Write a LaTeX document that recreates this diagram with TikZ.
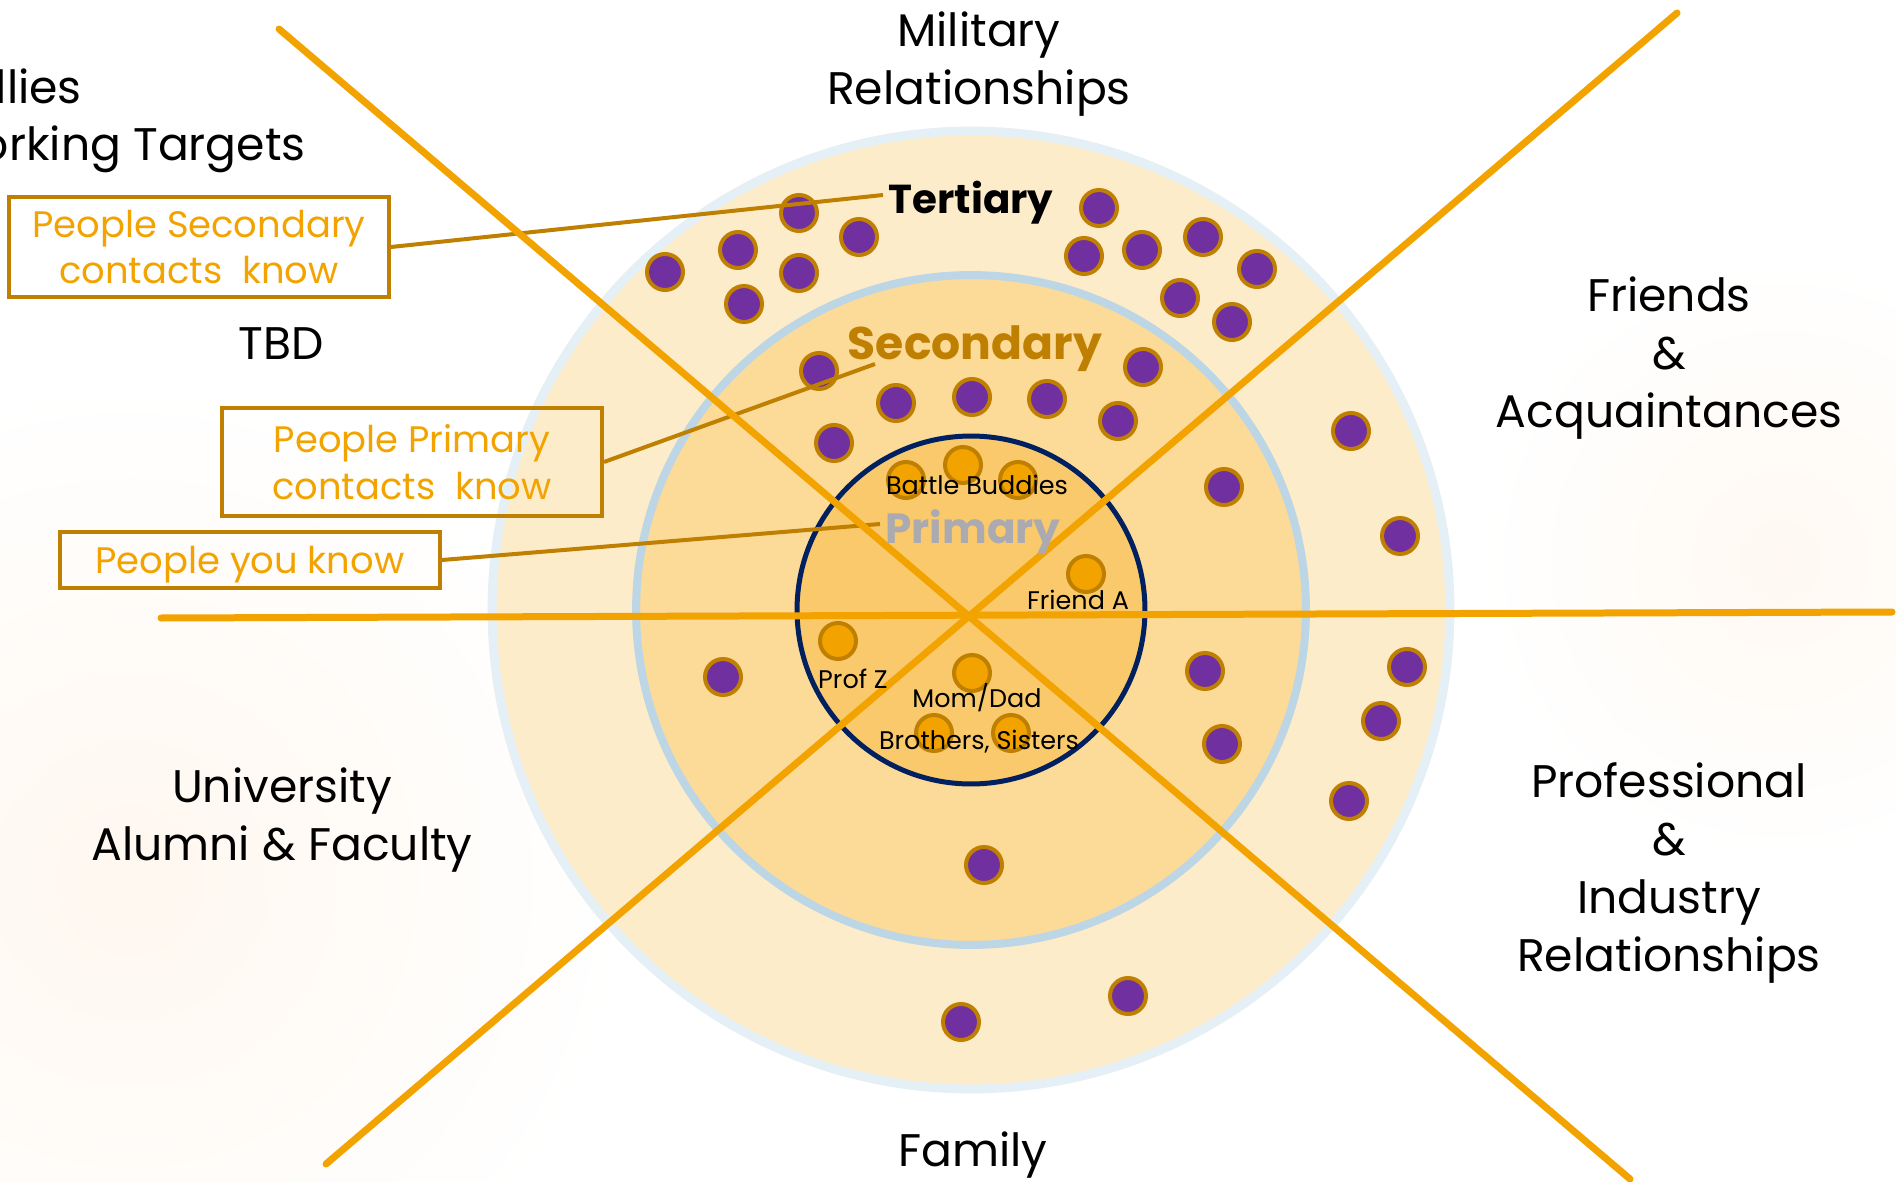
\documentclass[tikz,border=0pt]{standalone}
\usepackage{fontspec}
\setmainfont{Poppins}
\usepackage{tikz}
\usetikzlibrary{positioning}

\definecolor{ringgold}{RGB}{243,163,0}
\definecolor{rimbrown}{RGB}{191,127,0}
\definecolor{dotpurple}{RGB}{112,48,160}
\definecolor{navyring}{RGB}{0,32,96}
\definecolor{outerfill}{RGB}{253,236,202}
\definecolor{midfill}{RGB}{252,218,152}
\definecolor{innerfill}{RGB}{249,201,108}
\definecolor{outerrim}{RGB}{229,239,246}
\definecolor{midrim}{RGB}{188,214,229}
\definecolor{primgray}{RGB}{170,170,176}

\begin{document}
\begin{tikzpicture}[x=0.02cm, y=-0.02cm,
      pdot/.style={circle, draw=rimbrown, fill=dotpurple, line width=0.08cm,
                   minimum size=0.72cm, inner sep=0pt},
      odot/.style={pdot, fill=ringgold},
      axis/.style={ringgold, line width=0.14cm, line cap=round},
      call/.style={rimbrown, line width=0.08cm},
      tag/.style={draw=rimbrown, line width=0.08cm, text=ringgold, align=center,
                  font=\fontsize{21}{26.5}\selectfont, minimum width=7.6cm,
                  inner sep=0pt, text depth=0pt},
      sector/.style={align=center, font=\fontsize{26}{33}\selectfont},
      who/.style={font=\fontsize{14.5}{18}\selectfont},
      ring/.style={font=\bfseries\fontsize{24}{30}\selectfont}
  ]
    \useasboundingbox (0,0) rectangle (1896,1182);
    \clip (0,0) rectangle (1896,1182);
    % faint glow behind
    \shade[inner color=orange!6, outer color=white] (130,880) circle[radius=10cm];
    \shade[inner color=orange!5, outer color=white] (1780,560) circle[radius=6cm];

    % circles
    \coordinate (c) at (971,610);
    \draw[outerrim, fill=outerfill, line width=0.18cm] (c) circle[radius=9.58cm];
    \draw[midrim, fill=midfill, line width=0.16cm] (c) circle[radius=6.7cm];
    \draw[navyring, fill=innerfill, line width=0.1cm] (c) circle[radius=3.48cm];

    % tertiary contacts
    \foreach \x/\y [count=\i] in {665/272, 738/250, 799/213, 859/237, 799/273, 744/304,
        1099/208, 1084/256, 1142/250, 1203/237, 1257/269, 1180/298, 1232/322,
        1351/431, 1400/536, 1407/667, 1381/721, 1349/801, 1128/996, 961/1022}
      \node[pdot] (t\i) at (\x,\y) {};
    % secondary contacts
    \foreach \x/\y [count=\i] in {819/371, 896/403, 972/397, 1047/399, 1143/367, 834/443,
        1118/421, 1224/487, 1205/671, 1222/744, 723/677, 984/865}
      \node[pdot] (s\i) at (\x,\y) {};
    % primary contacts
    \foreach \x/\y [count=\i] in {906/480, 963/465, 1018/480, 1086/574,
        838/641, 972/673, 934/733, 1011/733}
      \node[odot] (p\i) at (\x,\y) {};

    % callouts
    \node[tag, minimum height=2cm]    (secknow)  at (199,247) {People Secondary\\contacts\ \ know};
    \node[tag, minimum height=2.16cm] (primknow) at (412,462) {People Primary\\contacts\ \ know};
    \node[tag, minimum height=1.14cm] (youknow)  at (250,560) {People you know};
    \coordinate (tertend) at (883,195);
    \coordinate (secend)  at (875,364);
    \coordinate (primend) at (880,524);
    \draw[call] (secknow.east)  -- (tertend);
    \draw[call] (primknow.east) -- (secend);
    \draw[call] (youknow.east)  -- (primend);

    % sector lines
    \draw[axis] (161,618) -- (1892,612);
    \draw[axis] (279,29) -- (1630,1179);
    \draw[axis] (1677,13) -- (326,1164);

    % ring names
    \node[ring, font=\bfseries\fontsize{23}{30}\selectfont] (tert) at (971,203) {Tertiary};
    \node[ring, text=rimbrown, font=\bfseries\fontsize{26}{30}\selectfont] (sec) at (975,349) {Secondary};
    \node[ring, text=primgray] (prim) at (973,532) {Primary};

    \node[who] (buddies)  at (977,485) {Battle Buddies};
    \node[who] (frienda)  at (1078,600) {Friend A};
    \node[who] (profz)    at (853,679) {Prof Z};
    \node[who] (parents)  at (977,698) {Mom/Dad};
    \node[who] (siblings) at (979,742) {Brothers, Sisters};

    % sectors
    \node[sector] (military) at (979,64) {Military\\Relationships};
    \node[sector, anchor=base east, inner sep=0pt] (allies)  at (82,104) {Allies};
    \node[sector, anchor=base east, inner sep=0pt] (network) at (306,161) {Networking Targets};
    \node[sector] (tbd) at (281,344) {TBD};
    \node[sector] (friends) at (1669,358) {Friends\\\&\\Acquaintances};
    \node[sector] (industry) at (1669,873) {Professional\\\&\\Industry\\Relationships};
    \node[sector] (university) at (282,820) {University\\Alumni \& Faculty};
    \node[sector] (family) at (973,1155) {Family};
  \end{tikzpicture}
\end{document}
